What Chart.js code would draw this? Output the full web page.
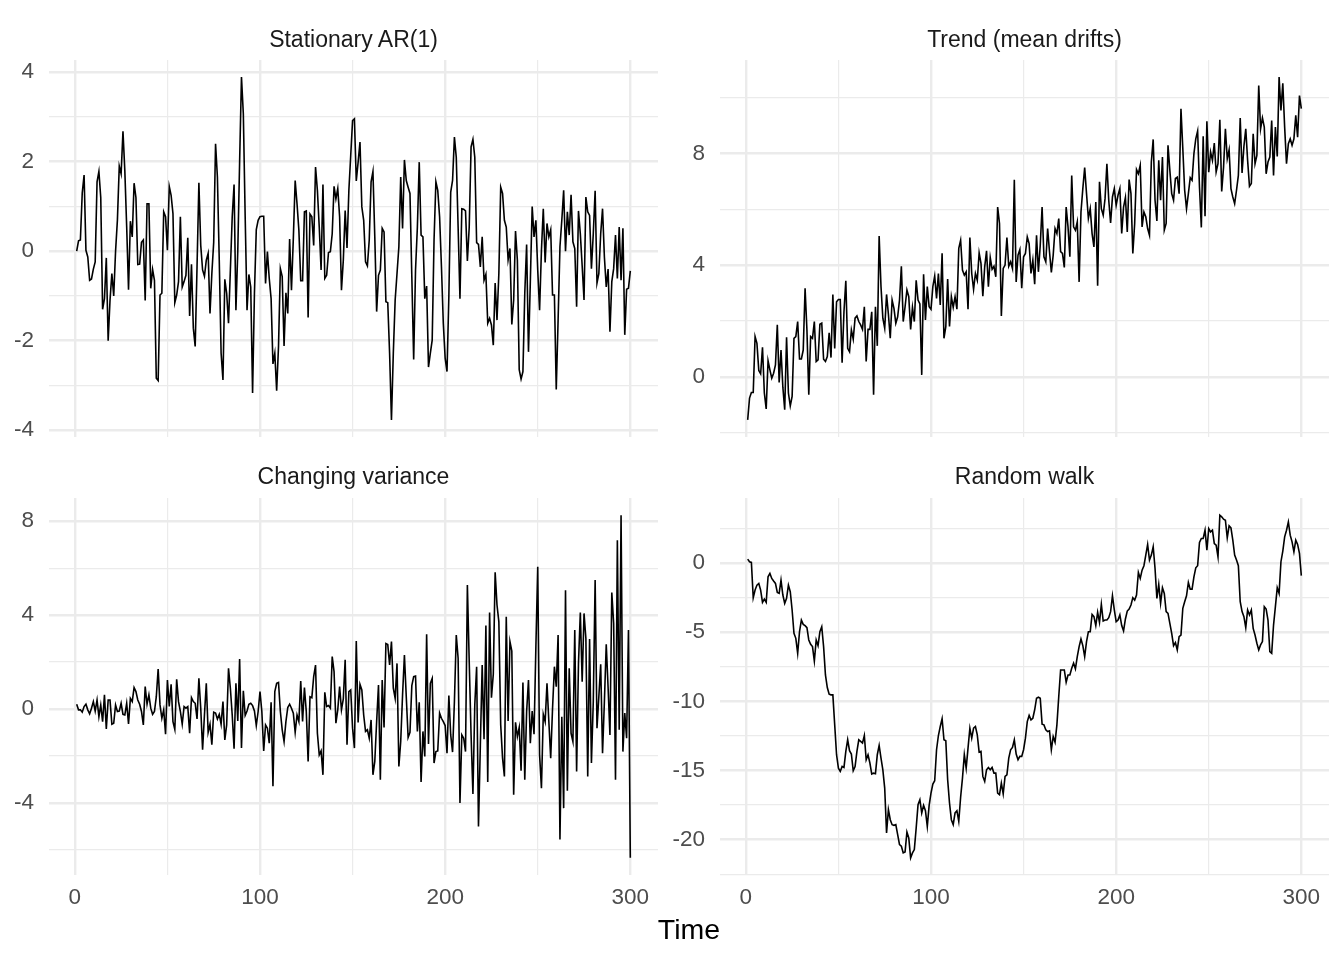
<!DOCTYPE html>
<html>
<head>
<meta charset="utf-8">
<title>Time series facets</title>
<script src="https://cdn.jsdelivr.net/npm/chart.js@4.4.1/dist/chart.umd.min.js"></script>
<style>
  html, body { margin: 0; padding: 0; background: #ffffff; }
  #wrap { position: relative; width: 1344px; height: 960px; background: #ffffff; overflow: hidden; }
  canvas { position: absolute; }
  .strip { position: absolute; width: 609px; text-align: center; font-family: "Liberation Sans", Arial, sans-serif;
           font-size: 23px; line-height: 23px; color: #1a1a1a; white-space: nowrap; }
  #xtitle { position: absolute; left: 0; width: 1378px; top: 915px; text-align: center;
            font-family: "Liberation Sans", Arial, sans-serif; font-size: 28.5px; line-height: 28.5px; color: #000; }
</style>
</head>
<body>
<div id="wrap">
  <canvas id="c1"></canvas>
  <canvas id="c2"></canvas>
  <canvas id="c3"></canvas>
  <canvas id="c4"></canvas>
  <div class="strip" style="left:49px; top:28px;">Stationary AR(1)</div>
  <div class="strip" style="left:720px; top:28px;">Trend (mean drifts)</div>
  <div class="strip" style="left:49px; top:465px;">Changing variance</div>
  <div class="strip" style="left:720px; top:465px;">Random walk</div>
  <div id="xtitle">Time</div>
</div>
<script>
// values, t = 1..300
const ar1 = [
  0.00, 0.23, 0.25, 1.30, 1.70, 0.02, -0.13, -0.65, -0.62, -0.40,
  -0.24, 1.55, 1.78, 1.20, -1.30, -1.06, -0.15, -2.00, -1.10, -0.50,
  -1.00, 0.00, 0.70, 1.90, 1.73, 2.68, 1.80, 0.55, -0.86, 0.67,
  0.32, 1.52, 1.20, -0.30, -0.29, 0.20, 0.25, -1.10, 1.06, 1.06,
  -0.83, -0.41, -0.65, -2.84, -2.89, -0.98, -0.94, 0.88, 0.77, 0.02,
  1.45, 1.25, 0.84, -1.15, -0.98, -0.68, 0.77, -0.80, -0.68, -0.54,
  0.30, -1.45, -0.29, -1.72, -2.13, -0.35, 1.53, 0.13, -0.42, -0.56,
  -0.20, -0.05, -1.39, -0.50, 0.20, 2.40, 1.66, -0.20, -2.28, -2.88,
  -0.63, -0.94, -1.61, -0.42, 0.77, 1.49, -1.32, 0.00, 2.00, 3.89,
  3.07, 0.77, -1.32, -0.52, -0.80, -3.17, -0.94, 0.48, 0.69, 0.77,
  0.78, 0.78, -0.72, -0.01, -0.61, -1.06, -2.52, -2.28, -3.12, -2.13,
  -0.39, -0.57, -2.12, -0.93, -1.39, 0.27, -0.87, 0.28, 1.58, 1.06,
  0.47, -0.66, -0.66, 0.88, 0.90, -1.48, 0.83, 0.77, 0.13, 1.88,
  1.36, 0.54, -0.42, 1.49, -0.61, -0.54, -0.03, -0.01, 0.39, 1.45,
  1.17, 1.40, 0.77, -0.87, -0.20, 0.91, 0.07, 1.36, 2.14, 2.92,
  2.96, 1.57, 1.99, 2.44, 0.99, 0.69, -0.24, -0.33, 0.25, 1.55,
  1.78, 0.32, -1.35, -0.54, -0.42, 0.51, 0.43, -1.13, -1.15, -2.28,
  -3.77, -2.28, -1.09, -0.50, 0.10, 1.66, 0.51, 2.04, 1.58, 1.43,
  1.29, -0.57, -2.42, -0.42, 0.54, 1.99, 0.36, 0.32, -1.06, -0.78,
  -2.59, -2.28, -1.99, 0.25, 1.55, 1.36, 0.77, -0.35, -1.61, -2.39,
  -2.69, -1.00, 1.32, 1.58, 2.55, 2.10, 0.54, -1.06, 0.95, 0.94,
  0.90, -0.22, 0.54, 2.33, 2.50, 2.10, 0.19, 0.15, -0.35, 0.32,
  -0.65, -0.52, -1.61, -1.50, -1.65, -2.10, -0.71, -1.54, -0.50, 1.43,
  1.29, 0.69, 0.54, -0.19, 0.06, -1.64, -1.09, 0.45, -0.20, -2.65,
  -2.86, -2.69, -0.94, 0.15, -2.25, -0.68, 1.00, 0.32, 0.69, -0.42,
  -1.32, 0.02, 0.95, -0.25, 0.62, 0.32, 0.48, -0.98, -0.98, -3.09,
  -1.54, 0.10, 0.69, 1.36, 0.00, 0.88, 0.36, 1.26, 0.21, 0.06,
  -1.24, 0.90, 0.39, -0.33, -1.09, 1.21, 0.88, 0.80, -0.39, 0.39,
  1.35, -0.71, -0.50, 0.39, 0.95, -0.13, -0.80, -0.40, -1.80, -0.68,
  -0.39, 0.36, -0.61, 0.54, -0.65, 0.51, -1.87, -0.85, -0.83, -0.44
];

const trend = [
  -1.54, -0.76, -0.56, -0.56, 1.44, 1.20, 0.23, 0.11, 1.06, -0.58,
  -1.15, 0.58, 0.25, -0.05, 0.13, 0.43, 1.86, -0.20, 0.96, -0.37,
  -1.18, 1.42, -0.58, -1.04, -0.70, 1.38, 1.44, 1.98, 0.64, 0.64,
  0.96, 3.17, 1.68, -0.64, 1.44, 1.38, 1.98, 0.55, 0.61, 1.88,
  1.92, 0.63, 0.55, 0.73, 1.58, 0.69, 2.95, 1.02, 2.69, 2.77,
  2.77, 0.51, 2.33, 3.44, 1.02, 0.90, 1.68, 1.35, 2.10, 2.18,
  1.98, 1.86, 1.70, 2.51, 0.55, 1.70, 1.70, 2.33, -0.64, 2.51,
  1.11, 5.04, 3.23, 2.10, 1.74, 2.95, 2.24, 1.38, 2.75, 2.45,
  1.92, 2.15, 2.75, 3.96, 1.98, 2.51, 3.11, 2.87, 1.70, 2.49,
  1.98, 3.46, 2.75, 2.61, 0.07, 3.67, 2.04, 3.23, 2.51, 2.42,
  3.23, 3.61, 2.81, 3.70, 2.57, 4.42, 1.38, 1.80, 3.50, 1.80,
  2.87, 2.49, 2.87, 2.42, 4.60, 4.89, 3.82, 3.64, 3.76, 2.42,
  4.99, 3.70, 3.13, 3.70, 3.46, 4.44, 4.06, 2.89, 3.94, 4.51,
  3.23, 4.27, 3.85, 3.96, 3.58, 6.08, 5.49, 2.18, 3.88, 4.00,
  4.99, 3.96, 4.12, 3.88, 7.06, 3.40, 4.36, 4.56, 3.17, 4.30,
  4.42, 5.01, 4.77, 3.70, 4.18, 3.32, 5.07, 3.76, 4.71, 6.08,
  4.30, 4.12, 5.31, 4.48, 3.74, 4.36, 5.31, 5.13, 5.67, 4.48,
  4.42, 3.92, 6.08, 5.37, 4.30, 7.21, 5.37, 5.25, 5.55, 3.40,
  5.90, 6.74, 7.49, 6.56, 5.67, 6.02, 5.13, 4.65, 6.26, 3.26,
  6.98, 6.02, 5.79, 6.38, 7.63, 6.32, 5.51, 6.44, 6.74, 6.14,
  6.50, 6.74, 5.13, 6.08, 6.42, 5.19, 7.06, 6.56, 4.42, 5.49,
  7.42, 7.27, 7.57, 5.37, 5.90, 5.73, 5.31, 5.07, 7.69, 8.50,
  6.32, 5.58, 7.75, 6.32, 7.87, 5.25, 5.49, 8.29, 7.39, 6.56,
  6.32, 7.10, 7.15, 6.56, 9.60, 8.17, 6.68, 6.02, 6.56, 7.13,
  7.04, 7.99, 8.52, 8.80, 6.80, 5.35, 8.61, 5.75, 9.15, 7.33,
  8.05, 7.75, 8.37, 7.33, 7.63, 9.20, 6.64, 7.51, 8.88, 7.81,
  8.13, 6.74, 6.44, 6.20, 6.68, 7.21, 9.27, 7.30, 8.25, 8.88,
  7.75, 6.82, 6.92, 8.70, 7.63, 7.93, 10.43, 8.88, 9.27, 8.94,
  7.27, 7.69, 7.87, 9.18, 7.21, 8.94, 7.89, 10.73, 9.54, 10.51,
  8.94, 7.63, 8.35, 8.52, 8.29, 8.52, 9.36, 8.58, 10.07, 9.60
];

const variance = [
  0.20, -0.04, -0.04, -0.14, 0.10, 0.20, -0.04, -0.21, 0.03, 0.31,
  -0.09, 0.38, -0.33, 0.17, -0.54, 0.60, -0.85, 0.38, 0.38, -0.65,
  -0.61, 0.17, -0.11, -0.09, 0.24, -0.23, -0.26, 0.24, -0.64, 0.45,
  0.31, 0.91, 0.74, 0.38, 0.20, -0.11, -0.68, 0.95, 0.20, 0.60,
  0.03, -0.23, -0.11, 0.52, 1.70, 0.17, -0.40, -0.04, -1.08, 1.23,
  0.10, 1.05, -0.54, -0.87, 1.26, 0.31, -0.11, -0.65, 0.10, 0.03,
  0.10, -1.04, 0.48, 0.31, 0.24, -0.43, 1.30, 0.03, -1.74, -0.26,
  1.09, -1.00, -0.65, -1.53, -0.14, -0.18, -0.43, -0.23, -0.65, 0.31,
  -1.32, -0.68, 1.73, 0.88, -0.26, -1.70, 1.09, -0.51, 2.13, -1.67,
  0.77, -0.28, -0.09, 0.20, 0.24, 0.14, -0.09, -0.71, -0.11, 0.74,
  -0.11, -1.79, -0.68, -0.82, -1.46, 0.28, -3.30, 0.74, 1.09, 1.13,
  -0.11, -0.89, -1.39, -0.54, 0.06, 0.20, 0.03, -0.18, -1.00, -0.26,
  -0.54, 1.19, -0.54, 0.91, -0.11, -2.24, 0.52, 0.48, 1.38, 1.87,
  -1.04, -1.96, -1.79, -2.81, 0.71, 0.10, 0.14, 0.03, 2.23, 1.59,
  -0.61, -0.04, 0.95, -0.04, 0.43, 2.09, -1.53, 0.74, 0.81, -0.82,
  -1.67, 2.89, -0.58, 1.05, 0.81, -0.26, -0.96, -0.89, -1.25, -0.47,
  -2.81, -2.24, -0.54, 1.02, -3.02, 1.23, -0.79, 2.79, 2.75, 1.87,
  2.87, 0.88, 0.45, 1.94, -2.45, -1.39, 0.60, 2.30, 0.52, -1.22,
  -1.00, 0.99, 1.38, 1.40, -0.96, 0.28, -3.12, -0.96, -2.03, 3.18,
  -1.50, 1.09, 1.30, -2.31, -1.82, -1.79, -0.18, -0.40, -0.54, -0.71,
  -1.89, 0.57, -1.11, -1.84, 0.31, 3.15, 2.16, -4.01, -1.11, -1.25,
  -1.82, 5.28, 2.01, -1.11, -3.63, 0.17, 1.80, -5.01, -1.56, 1.87,
  -1.29, 3.55, -3.12, 4.11, 0.48, 1.48, 5.82, 4.43, 3.72, -0.68,
  -2.10, -2.88, 3.93, -0.51, 2.87, 2.47, -3.66, -0.57, -1.18, -0.79,
  -2.64, 1.13, -3.02, -0.11, 1.23, -1.46, -0.09, -1.08, 2.65, 6.06,
  -1.96, -3.38, -0.23, -0.54, 1.09, -0.54, -2.10, 0.03, 1.80, 0.95,
  3.15, -5.57, -0.33, -4.23, 5.06, -3.49, 1.73, -1.04, -1.39, 3.36,
  -2.67, 1.94, 4.11, 1.16, 4.07, 3.01, -2.88, 2.98, -2.31, 0.31,
  5.49, -0.82, 0.52, 1.90, -1.89, 0.31, 2.75, 0.91, -1.11, 4.96,
  3.65, -3.02, 7.19, -0.89, 8.26, -1.82, -0.18, -1.25, 3.36, -6.35
];

const walk = [
  0.29, 0.10, 0.05, -2.50, -1.95, -1.59, -1.47, -1.95, -2.84, -2.60,
  -2.84, -0.99, -0.75, -1.11, -1.30, -1.47, -2.12, -2.19, -1.23, -2.31,
  -2.91, -2.55, -1.59, -2.07, -3.39, -5.08, -5.44, -6.52, -4.96, -4.12,
  -4.43, -4.52, -4.67, -5.56, -5.87, -6.04, -7.08, -5.56, -5.97, -4.96,
  -4.60, -6.04, -8.09, -9.00, -9.48, -9.53, -9.53, -11.70, -13.86, -14.83,
  -15.07, -14.71, -14.78, -13.62, -12.78, -13.57, -13.81, -15.02, -14.71, -13.62,
  -12.78, -12.90, -13.02, -12.47, -14.22, -13.86, -14.46, -15.26, -15.19, -15.23,
  -13.86, -13.19, -14.10, -14.95, -16.27, -19.52, -17.83, -18.56, -18.92, -18.97,
  -18.92, -19.64, -20.36, -20.48, -20.96, -20.89, -19.45, -19.88, -21.32, -20.96,
  -20.72, -19.16, -17.47, -17.11, -18.07, -17.52, -17.91, -19.04, -17.52, -16.63,
  -15.98, -15.74, -13.50, -12.47, -11.82, -11.26, -12.78, -12.85, -15.67, -17.35,
  -18.56, -18.92, -18.07, -17.91, -18.68, -16.94, -15.55, -13.86, -14.83, -13.38,
  -11.94, -12.66, -11.94, -11.82, -12.42, -13.67, -13.62, -15.43, -15.79, -14.95,
  -14.78, -14.95, -14.78, -15.19, -15.19, -16.63, -16.75, -15.91, -16.70, -15.43,
  -15.31, -14.10, -13.50, -13.33, -12.78, -13.81, -14.22, -13.98, -13.98, -13.50,
  -12.66, -11.46, -11.02, -11.34, -11.22, -10.61, -9.77, -9.70, -9.77, -11.65,
  -11.70, -12.06, -12.18, -12.13, -13.50, -12.54, -12.95, -11.70, -9.65, -7.73,
  -7.73, -7.73, -8.62, -8.09, -8.09, -7.61, -7.24, -7.65, -6.76, -6.04,
  -5.49, -5.97, -6.76, -5.68, -4.96, -4.96, -3.71, -3.87, -4.52, -3.56,
  -4.28, -2.98, -4.19, -4.12, -4.12, -3.95, -3.51, -2.36, -3.39, -4.24,
  -4.12, -3.75, -4.52, -4.91, -4.04, -3.47, -3.32, -3.03, -2.50, -2.67,
  -2.31, -0.67, -1.11, -0.51, -0.19, 0.58, 1.35, 0.22, 0.58, 1.18,
  -0.39, -2.55, -1.54, -2.91, -1.78, -2.19, -3.51, -3.63, -4.36, -5.08,
  -5.97, -5.75, -6.28, -5.32, -5.20, -3.27, -2.79, -2.36, -1.40, -1.88,
  -1.88, -0.99, -0.34, -0.19, 1.49, 1.78, 1.78, 2.38, 0.94, 2.50,
  2.26, 2.38, 1.42, 1.30, 0.46, 3.47, 3.35, 3.18, 3.10, 1.83,
  2.70, 2.55, 1.66, 0.58, 0.22, -0.19, -2.79, -3.51, -3.87, -4.67,
  -3.39, -3.75, -3.39, -4.72, -5.20, -5.80, -6.28, -5.92, -5.68, -3.15,
  -3.32, -4.12, -6.40, -6.52, -4.48, -3.15, -1.78, -2.19, 0.10, 0.87,
  1.90, 2.38, 2.98, 2.02, 1.54, 0.82, 1.66, 1.35, 0.70, -0.91
];

// tick labels (major) and minor grid positions
const xMajor = [0, 100, 200, 300];
const xMinor = [50, 150, 250];
const ar1Major = [-4, -2, 0, 2, 4];
const ar1Minor = [-3, -1, 1, 3];
const trendMajor = [0, 4, 8];
const trendMinor = [-2, 2, 6, 10];
const varMajor = [-4, 0, 4, 8];
const varMinor = [-6, -2, 2, 6];
const walkMajor = [-20, -15, -10, -5, 0];
const walkMinor = [-22.5, -17.5, -12.5, -7.5, -2.5, 2.5];

const GRID = '#ebebeb';
const TICK_FONT = { family: '"Liberation Sans", Arial, sans-serif', size: 22.5 };
const Y_W = 49;   // room for y tick labels
const PAD = 32;   // must cover half a label + tick padding, or chart.js shrinks the area
const X_H = 45;   // room for x tick labels on bottom row

function expandRange(lo, hi) {
  const d = (hi - lo) * 0.05;
  return [lo - d, hi + d];
}

function gridTicks(major, minor, lo, hi) {
  return function (scale) {
    scale.ticks = major.concat(minor)
      .filter(v => v >= lo && v <= hi)
      .sort((a, b) => a - b)
      .map(v => ({ value: v }));
  };
}

function makePanel(id, values, yMajor, yMinor, area, showX) {
  const canvas = document.getElementById(id);
  const w = Y_W + (area.r - area.l) + PAD;
  const h = PAD + (area.b - area.t) + (showX ? X_H : PAD);
  canvas.width = w;
  canvas.height = h;
  canvas.style.left = (area.l - Y_W) + 'px';
  canvas.style.top = (area.t - PAD) + 'px';

  const time = values.map((_, i) => i + 1);
  const [xLo, xHi] = expandRange(time[0], time[time.length - 1]);
  const [yLo, yHi] = expandRange(Math.min(...values), Math.max(...values));

  new Chart(canvas, {
    type: 'line',
    data: {
      labels: time,
      datasets: [{
        data: values.map((v, i) => ({ x: time[i], y: v })),
        borderColor: '#000000',
        borderWidth: 1.6,
        pointRadius: 0,
        tension: 0,
        fill: false
      }]
    },
    options: {
      responsive: false,
      animation: false,
      devicePixelRatio: 1,
      layout: { padding: { left: 0, top: PAD, right: PAD, bottom: showX ? 0 : PAD } },
      plugins: { legend: { display: false }, tooltip: { enabled: false } },
      scales: {
        x: {
          type: 'linear',
          min: xLo,
          max: xHi,
          afterBuildTicks: gridTicks(xMajor, xMinor, xLo, xHi),
          afterFit: s => { s.height = showX ? X_H : 0; },
          border: { display: false },
          grid: {
            color: GRID,
            drawTicks: false,
            lineWidth: ctx => (xMajor.includes(ctx.tick.value) ? 2.4 : 1.2)
          },
          ticks: {
            display: showX,
            autoSkip: false,
            maxRotation: 0,
            padding: 9,
            color: '#4d4d4d',
            font: TICK_FONT,
            callback: v => (xMajor.includes(v) ? String(v) : '')
          }
        },
        y: {
          type: 'linear',
          min: yLo,
          max: yHi,
          afterBuildTicks: gridTicks(yMajor, yMinor, yLo, yHi),
          afterFit: s => { s.width = Y_W; },
          border: { display: false },
          grid: {
            color: GRID,
            drawTicks: false,
            lineWidth: ctx => (yMajor.includes(ctx.tick.value) ? 2.4 : 1.2)
          },
          ticks: {
            autoSkip: false,
            padding: 15,
            color: '#4d4d4d',
            font: TICK_FONT,
            callback: v => (yMajor.includes(v) ? String(v) : '')
          }
        }
      }
    }
  });
}

makePanel('c1', ar1, ar1Major, ar1Minor, { l: 49, t: 60, r: 658, b: 437 }, false);
makePanel('c2', trend, trendMajor, trendMinor, { l: 720, t: 60, r: 1329, b: 437 }, false);
makePanel('c3', variance, varMajor, varMinor, { l: 49, t: 498, r: 658, b: 875 }, true);
makePanel('c4', walk, walkMajor, walkMinor, { l: 720, t: 498, r: 1329, b: 875 }, true);
</script>
</body>
</html>
